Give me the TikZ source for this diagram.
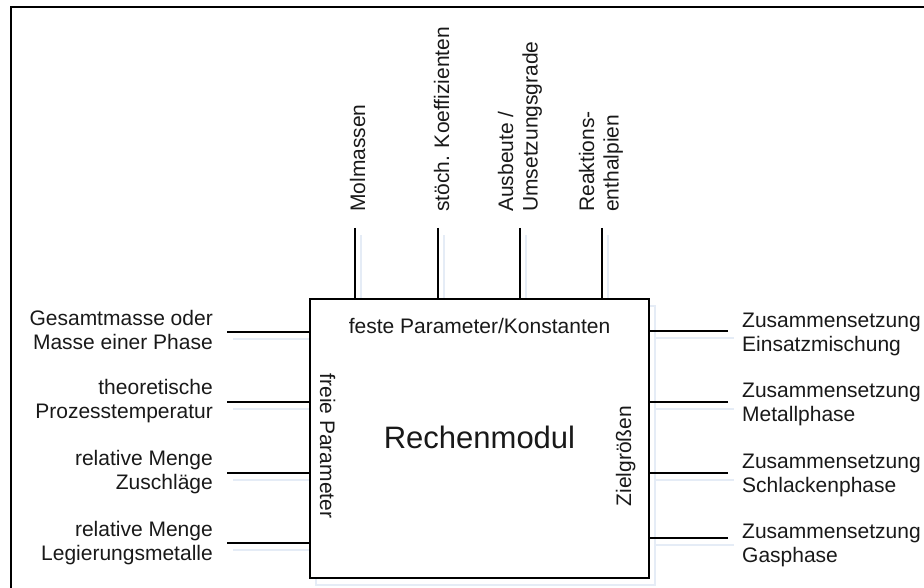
\documentclass[tikz,border=0pt]{standalone}
\usepackage{fontspec}
\setmainfont{Liberation Sans}
\definecolor{shadowblue}{RGB}{229,236,246}
\definecolor{ink}{RGB}{25,25,25}
\newcommand{\firstln}{\rule{0pt}{16pt}}
\begin{document}
\begin{tikzpicture}[x=1pt,y=-1pt,
  lbl/.style={inner sep=0pt, text=ink, font=\fontsize{21}{24.5}\selectfont},
  stub/.style={line width=2.7pt, line cap=butt},
  shade/.style={line width=1.4pt, draw=shadowblue},
  frame/.style={line width=2.8pt}]
\useasboundingbox (0,0) rectangle (924,588);
% outer frame (left and top only)
\draw[frame] (11,588) -- (11,7) -- (924,7);

% coordinates of free stub ends
\coordinate (t1) at (355,228);
\coordinate (t2) at (438,228);
\coordinate (t3) at (520,228);
\coordinate (t4) at (602,228);
\coordinate (l1) at (227,332);
\coordinate (l2) at (227,402);
\coordinate (l3) at (227,473);
\coordinate (l4) at (227,543);
\coordinate (r1) at (728,331);
\coordinate (r2) at (728,402);
\coordinate (r3) at (728,473);
\coordinate (r4) at (728,538);

% faint drop shadows
\foreach \c in {t1,t2,t3,t4}{
  \draw[shade] ([xshift=6pt,yshift=-7pt]\c) -- ++(0,72);
}
\foreach \c in {l1,l2,l3,l4}{
  \draw[shade] ([xshift=6pt,yshift=-7pt]\c) -- ++(84,0);
}
\foreach \c in {r1,r2,r3,r4}{
  \draw[shade] ([xshift=6pt,yshift=-7pt]\c) -- ++(-78,0);
}
\draw[shade] (316,306) rectangle (655,585);

% main box
\node[draw, line width=2.7pt, fill=white, minimum width=339pt, minimum height=279pt, inner sep=0pt]
  (box) at (479.5,438.5) {};

% stubs
\foreach \c in {t1,t2,t3,t4}{ \draw[stub] (\c) -- (\c |- box.north); }
\foreach \c in {l1,l2,l3,l4}{ \draw[stub] (\c) -- (\c -| box.west); }
\foreach \c in {r1,r2,r3,r4}{ \draw[stub] (\c) -- (\c -| box.east); }

% top labels
\node[lbl, rotate=90, anchor=north west, align=left] (tl1) at (349,212) {\firstln Molmassen};
\node[lbl, rotate=90, anchor=north west, align=left] (tl2) at (433,212) {\firstln stöch. Koeffizienten};
\node[lbl, rotate=90, anchor=north west, align=left] (tl3) at (497,212) {\firstln Ausbeute /\\Umsetzungsgrade};
\node[lbl, rotate=90, anchor=north west, align=left] (tl4) at (578,212) {\firstln Reaktions-\\enthalpien};

% left labels
\node[lbl, anchor=north east, align=right] (ll1) at (213,309) {\firstln Gesamtmasse oder\\Masse einer Phase};
\node[lbl, anchor=north east, align=right] (ll2) at (213,378) {\firstln theoretische\\Prozesstemperatur};
\node[lbl, anchor=north east, align=right] (ll3) at (213,449) {\firstln relative Menge\\Zuschläge};
\node[lbl, anchor=north east, align=right] (ll4) at (213,520) {\firstln relative Menge\\Legierungsmetalle};

% right labels
\node[lbl, anchor=north west, align=left] (rl1) at (742,311) {\firstln Zusammensetzung\\Einsatzmischung};
\node[lbl, anchor=north west, align=left] (rl2) at (742,381) {\firstln Zusammensetzung\\Metallphase};
\node[lbl, anchor=north west, align=left] (rl3) at (742,452) {\firstln Zusammensetzung\\Schlackenphase};
\node[lbl, anchor=north west, align=left] (rl4) at (742,522) {\firstln Zusammensetzung\\Gasphase};

% inner labels
\node[lbl, anchor=base] (fest) at (479.5,333) {feste Parameter/Konstanten};
\node[lbl, anchor=base, rotate=-90] (frei) at (320,446) {freie Parameter};
\node[lbl, anchor=base, rotate=90] (ziel) at (631,456) {Zielgrößen};
\node[inner sep=0pt, text=ink, font=\fontsize{31}{36}\selectfont, anchor=base] (rech) at (479.5,448) {Rechenmodul};
\end{tikzpicture}
\end{document}
